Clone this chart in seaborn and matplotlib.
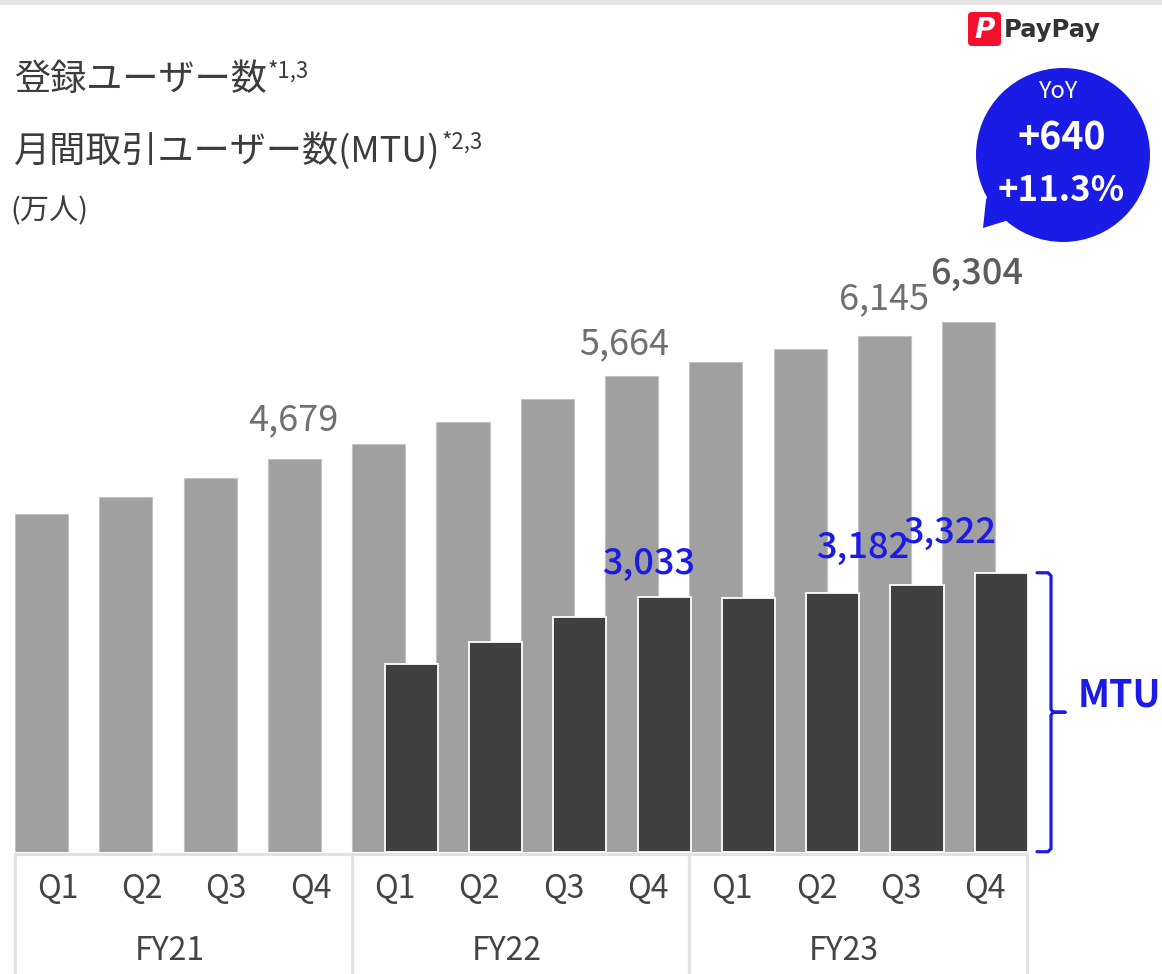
import numpy as np
import pandas as pd
import matplotlib
matplotlib.use("Agg")
import matplotlib.pyplot as plt
import matplotlib.transforms as mtransforms
from matplotlib.patches import Circle, Polygon, FancyBboxPatch, Rectangle
from matplotlib.lines import Line2D
import seaborn as sns

# ---- data (万人) ----
fiscal_years = ["FY21", "FY22", "FY23"]
quarters = ["Q1", "Q2", "Q3", "Q4"]
registered_users = [4018, 4221, 4447, 4679, 4859, 5114, 5395, 5664, 5836, 5991, 6145, 6304]
mtu_users = [2240, 2494, 2799, 3033, 3025, 3077, 3182, 3322]
mtu_start = 4  # MTU reported from FY22 Q1
registered_labelled = [3, 7, 10, 11]
mtu_labelled = [3, 6, 7]
yoy_text = ["YoY", "+640", "+11.3%"]

W, H = 1162, 974
GRAY = "#a0a0a0"
DARK = "#404040"
BLUE = "#1b1be6"
TEXT = "#3c3c3c"

sns.set_style("white")
plt.rcParams["font.family"] = ["Noto Sans CJK JP", "DejaVu Sans"]

fig = plt.figure(figsize=(W / 100, H / 100), dpi=100)
fig.patch.set_facecolor("white")

# pixel helpers: x pixel = X0 + STEP * position, baseline at BASE_PX
X0, STEP, BASE_PX, UPP = 41.5, 84.3, 851.7, 11.91
ax = fig.add_axes([0, (H - BASE_PX) / H, 1, BASE_PX / H])
ax.set_facecolor("none")

reg_df = pd.DataFrame({"pos": np.arange(len(registered_users)), "users": registered_users})
mtu_df = pd.DataFrame({"pos": np.arange(mtu_start, mtu_start + len(mtu_users)) + 0.385,
                       "users": mtu_users})

sns.barplot(data=reg_df, x="pos", y="users", native_scale=True, width=0.629,
            color=GRAY, saturation=1, edgecolor="#c2c2c2", linewidth=0.8,
            errorbar=None, ax=ax)
sns.barplot(data=mtu_df, x="pos", y="users", native_scale=True, width=0.63,
            color=DARK, saturation=1, edgecolor="white", linewidth=1.3,
            errorbar=None, ax=ax)

ax.set_xlim(-X0 / STEP, (W - X0) / STEP)
ax.set_ylim(0, BASE_PX * UPP)
ax.set_axis_off()

# ---- value labels ----
reg_offsets = {3: (-1, 29), 7: (-7, 22), 10: (0, 26), 11: (8, 39)}
for i in registered_labelled:
    dx, dy = reg_offsets[i]
    bold = i == len(registered_users) - 1
    ax.annotate(f"{registered_users[i]:,}", xy=(reg_df.pos[i], registered_users[i]),
                xytext=(dx, dy), textcoords="offset pixels", ha="center", va="baseline",
                fontsize=26, color="#5c5c5c" if bold else "#707070",
                fontweight="medium" if bold else "normal")

mtu_offsets = {3: (-16, 23), 6: (-54, 27), 7: (-52, 30)}
for i in mtu_labelled:
    dx, dy = mtu_offsets[i]
    ax.annotate(f"{mtu_users[i]:,}", xy=(mtu_df.pos[i], mtu_users[i]),
                xytext=(dx, dy), textcoords="offset pixels", ha="center", va="baseline",
                fontsize=26, color=BLUE, fontweight="medium")

# ---- category axis (quarters / fiscal years) ----
px = mtransforms.Affine2D().scale(1 / W, -1 / H).translate(0, 1) + fig.transFigure
xq = mtransforms.blended_transform_factory(ax.transData, px)
group_shift = 16.2 / STEP
for i in range(len(registered_users)):
    ax.text(i + group_shift, 889, quarters[i % 4], transform=xq, ha="center", va="center",
            fontsize=23, color="#444444")
for k, fy in enumerate(fiscal_years):
    ax.text(4 * k + 1.5 + group_shift * 0.1, 951, fy, transform=xq, ha="center", va="center",
            fontsize=23, color="#444444")

box_color = "#e2e2e2"
edges = [4 * k - 0.3145 for k in range(4)]
ax.add_line(Line2D([edges[0], edges[-1]], [854, 854], transform=xq, color=box_color,
                   lw=2.4, clip_on=False))
for e in edges:
    ax.add_line(Line2D([e, e], [854, H + 2], transform=xq, color=box_color, lw=2.4,
                       clip_on=False))

# ---- MTU bracket ----
def ux(p):
    return (p - X0) / STEP

top, mid = mtu_users[-1], mtu_users[-1] / 2
bx = ux(1051)
bracket_x = [ux(1037), ux(1048), bx, bx, ux(1053), ux(1065), ux(1053), bx, bx, ux(1048), ux(1037)]
r = 3 * UPP
bracket_y = [top, top, top - r, mid + r, mid, mid, mid, mid - r, r, 0, 0]
ax.add_line(Line2D(bracket_x, bracket_y, color=BLUE, lw=2.3, solid_joinstyle="round",
                   solid_capstyle="round", clip_on=False))
ax.text(ux(1078), mid + 17 * UPP, "MTU", ha="left", va="center", fontsize=27,
        fontweight="bold", color=BLUE)

# ---- titles ----
t1 = fig.text(14 / W, 1 - 90 / H, "登録ユーザー数", fontsize=26, color=TEXT, va="baseline")
ax.annotate("*1,3", xy=(1, 1), xycoords=t1, xytext=(1, 2), textcoords="offset pixels",
            ha="left", va="top", fontsize=16, color=TEXT, annotation_clip=False)
t2 = fig.text(14 / W, 1 - 162 / H, "月間取引ユーザー数(MTU)", fontsize=26, color=TEXT,
              va="baseline")
ax.annotate("*2,3", xy=(1, 1), xycoords=t2, xytext=(1, 2), textcoords="offset pixels",
            ha="left", va="top", fontsize=16, color=TEXT, annotation_clip=False)
fig.text(10 / W, 1 - 219 / H, "(万人)", fontsize=21, color=TEXT, va="baseline")

# ---- top band ----
fig.patches.append(Rectangle((0, 0), W, 5, transform=px, facecolor="#e4e4e6",
                             edgecolor="none", figure=fig))

# ---- PayPay logo ----
fig.patches.append(FancyBboxPatch((968, 12), 33, 34, boxstyle="round,pad=0,rounding_size=4",
                                  transform=px, facecolor="#f2102c", edgecolor="none",
                                  figure=fig))
fig.text(985 / W, 1 - 30 / H, "P", ha="center", va="center",
         fontsize=20, fontweight="bold", color="white", family="DejaVu Sans", style="italic")
fig.text(1004 / W, 1 - 30 / H, "PayPay", ha="left", va="center", fontsize=17.5,
         fontweight="bold", color="#333333", family="DejaVu Sans")

# ---- YoY bubble ----
fig.patches.append(Polygon([(995, 175), (986, 200), (983, 228), (1012, 219), (1035, 205)],
                           closed=True, transform=px, facecolor=BLUE, edgecolor="none",
                           figure=fig))
fig.patches.append(Circle((1063, 155), 87, transform=px, facecolor=BLUE, edgecolor="none",
                          figure=fig))
fig.text(1058 / W, 1 - 92 / H, yoy_text[0], ha="center", va="center", fontsize=17,
         color="white")
fig.text(1062 / W, 1 - 138 / H, yoy_text[1], ha="center", va="center", fontsize=27,
         fontweight="bold", color="white")
fig.text(1061 / W, 1 - 191 / H, yoy_text[2], ha="center", va="center", fontsize=25,
         fontweight="bold", color="white")

fig.savefig("out.png", dpi=100)
